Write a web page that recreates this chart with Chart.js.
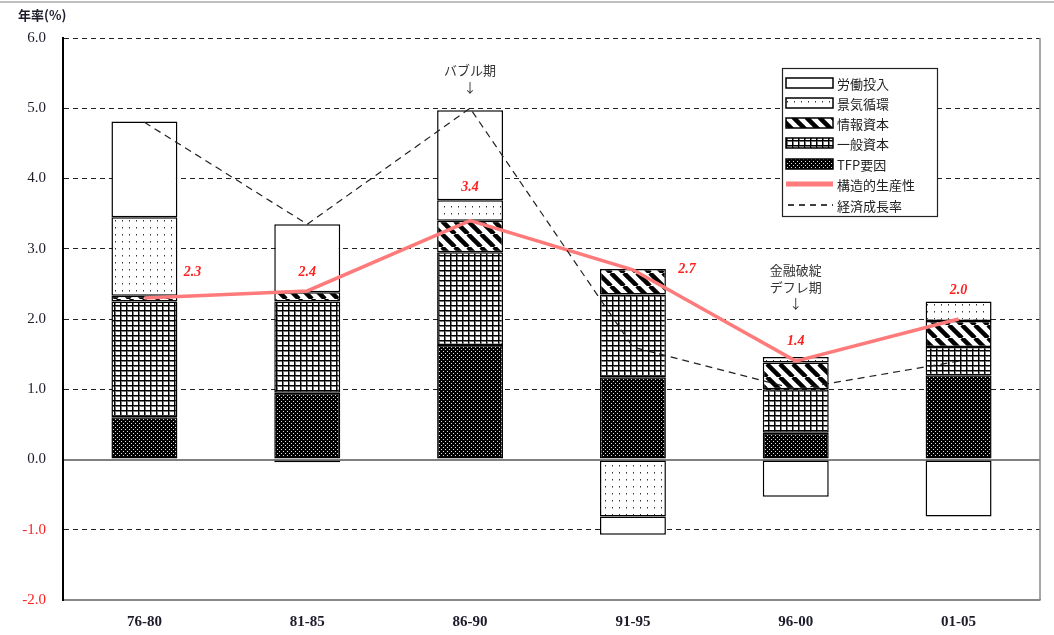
<!DOCTYPE html>
<html>
<head>
<meta charset="utf-8">
<script src="https://cdn.jsdelivr.net/npm/chart.js@4.4.1/dist/chart.umd.min.js"></script>
<style>
  body{margin:0;background:#fff}
  #wrap{width:1054px;height:635px;position:relative}
</style>
</head>
<body>
<div id="wrap"><canvas id="chart"></canvas></div>
<script>
// data
const periods = ["76-80","81-85","86-90","91-95","96-00","01-05"];
const tfp        = [0.60, 0.95, 1.63, 1.17, 0.38, 1.20];
const general    = [1.65, 1.30, 1.32, 1.18, 0.62, 0.40];
const info       = [0.08, 0.13, 0.45, 0.36, 0.38, 0.37];
const cycle      = [1.12, -0.04, 0.29, -0.81, 0.08, 0.28];
const labor      = [1.36, 0.97, 1.28, -0.26, -0.53, -0.81];
const structural = [2.3, 2.4, 3.4, 2.7, 1.4, 2.0];
const growth     = [4.8, 3.35, 5.0, 1.6, 1.0, 1.4];
const seriesNames = ["労働投入","景気循環","情報資本","一般資本","TFP要因","構造的生産性","経済成長率"];
const yMin = -2, yMax = 6, yStep = 1;
const yTitle = "年率(%)";
const notes = [
  {cat: 2, lines: ["バブル期","↓"], at: [5.55, 5.3]},
  {cat: 4, lines: ["金融破綻","デフレ期","↓"], at: [2.7, 2.46, 2.23]}
];

// where each red value label sits relative to its point (px)
const labelOffset = [[48,-26],[0,-19],[0,-33],[54,0],[0,-20],[0,-29]];

const RED = '#ff2020';
const PINK = '#ff7b7b';
const INK = '#1c1c2a';
const SERIF = '"Liberation Serif", "Times New Roman", serif';
const JP = '"Noto Sans CJK JP", "Noto Sans", sans-serif';

function tile(w, h, draw){
  const c = document.createElement('canvas');
  c.width = w; c.height = h;
  const g = c.getContext('2d');
  draw(g, w, h);
  return g.createPattern(c, 'repeat');
}

const patLabor = '#ffffff';
const patCycle = tile(7, 7, (g,w,h)=>{
  g.fillStyle='#fff'; g.fillRect(0,0,w,h);
  g.fillStyle='#333'; g.fillRect(3,3,1,1);
  g.fillStyle='#999'; g.fillRect(3,4,1,1);
});
const patInfo = tile(13, 13, (g,w,h)=>{
  g.fillStyle='#fff'; g.fillRect(0,0,w,h);
  g.strokeStyle='#000'; g.lineWidth=4.5;
  [-w,0,w].forEach(o=>{ g.beginPath(); g.moveTo(o,0); g.lineTo(o+w,h); g.stroke(); });
});
const patGeneral = tile(6, 5, (g,w,h)=>{
  g.fillStyle='#fff'; g.fillRect(0,0,w,h);
  g.fillStyle='#777'; g.fillRect(1,0,1,h); g.fillRect(0,1,w,1);
  g.fillStyle='#000'; g.fillRect(0,0,1,h); g.fillRect(0,0,w,1);
});
const patTfp = tile(4, 4, (g,w,h)=>{
  g.fillStyle='#000'; g.fillRect(0,0,w,h);
  g.fillStyle='#ddd'; g.fillRect(1,1,1,1); g.fillRect(3,3,1,1);
});

function bar(label, data, fill){
  return {type:'bar', label, data, backgroundColor: fill, borderColor:'#000', borderWidth:1.5,
    borderSkipped:false, stack:'bars', order:1, barPercentage:0.405, categoryPercentage:1};
}

const overlay = {
  id: 'overlay',
  afterDatasetsDraw(chart){
    const {ctx, chartArea:a, scales:{x, y}} = chart;
    ctx.save();
    // page line at top
    ctx.strokeStyle='#aaa'; ctx.lineWidth=1.5;
    ctx.beginPath(); ctx.moveTo(0,2); ctx.lineTo(chart.width,2); ctx.stroke();
    // right frame
    ctx.strokeStyle='#888'; ctx.lineWidth=1.5;
    ctx.beginPath(); ctx.moveTo(a.right, a.top); ctx.lineTo(a.right, a.bottom); ctx.stroke();

    // axis title
    ctx.fillStyle=INK; ctx.font='bold 13px '+JP; ctx.textAlign='left'; ctx.textBaseline='middle';
    ctx.fillText(yTitle, 18, 15);

    // value labels of the structural line
    ctx.fillStyle=RED; ctx.font='italic bold 14px '+SERIF; ctx.textAlign='center';
    structural.forEach((v,i)=>{
      const o = labelOffset[i];
      ctx.fillText(v.toFixed(1), x.getPixelForValue(i)+o[0], y.getPixelForValue(v)+o[1]);
    });

    // period notes
    ctx.fillStyle='#333'; ctx.font='13px '+JP;
    notes.forEach(n=>{
      n.lines.forEach((t,j)=> ctx.fillText(t, x.getPixelForValue(n.cat), y.getPixelForValue(n.at[j])));
    });

    // legend
    const lx=782.5, ly=68.5, lw=155, lh=148;
    ctx.fillStyle='#fff'; ctx.fillRect(lx,ly,lw,lh);
    ctx.strokeStyle='#222'; ctx.lineWidth=1.2; ctx.strokeRect(lx,ly,lw,lh);
    const rows=[83,103,123,143,164,184,205];
    const fills=[patLabor, patCycle, patInfo, patGeneral, patTfp];
    ctx.textAlign='left'; ctx.font='13px '+JP;
    seriesNames.forEach((name,i)=>{
      const ry=rows[i];
      if(i<5){
        ctx.fillStyle=fills[i]; ctx.fillRect(786, ry-5, 47, 10);
        ctx.strokeStyle='#000'; ctx.lineWidth=1.5; ctx.strokeRect(786, ry-5, 47, 10);
      } else if(i===5){
        ctx.strokeStyle=PINK; ctx.lineWidth=5; ctx.setLineDash([]);
        ctx.beginPath(); ctx.moveTo(786,ry); ctx.lineTo(833,ry); ctx.stroke();
      } else {
        ctx.strokeStyle='#000'; ctx.lineWidth=1.5; ctx.setLineDash([6,5]);
        ctx.beginPath(); ctx.moveTo(788,ry); ctx.lineTo(833,ry); ctx.stroke();
        ctx.setLineDash([]);
      }
      ctx.fillStyle='#222';
      ctx.fillText(name, 837, ry+1);
    });
    ctx.restore();
  }
};

new Chart(document.getElementById('chart'), {
  data: {
    labels: periods,
    datasets: [
      bar(seriesNames[4], tfp, patTfp),
      bar(seriesNames[3], general, patGeneral),
      bar(seriesNames[2], info, patInfo),
      bar(seriesNames[1], cycle, patCycle),
      bar(seriesNames[0], labor, patLabor),
      {type:'line', label:seriesNames[6], data:growth, borderColor:'#222', borderWidth:1.2,
        borderDash:[7,5], pointRadius:0, tension:0, stack:'g', order:0},
      {type:'line', label:seriesNames[5], data:structural, borderColor:PINK, borderWidth:3.5,
        pointRadius:0, tension:0, stack:'s', order:0}
    ]
  },
  options: {
    responsive:true, maintainAspectRatio:false, animation:false,
    layout:{padding:{top:38, right:14, left:0, bottom:0}},
    plugins:{legend:{display:false}, tooltip:{enabled:false}},
    scales:{
      x:{
        stacked:true,
        grid:{display:false, drawTicks:false},
        border:{color:'#888', width:1.5},
        ticks:{color:INK, font:{family:SERIF, size:15, weight:'bold'}, padding:13},
        afterFit:s=>{ s.height = 35; }
      },
      y:{
        stacked:true, min:yMin, max:yMax,
        ticks:{stepSize:yStep, padding:17, callback:v=>v.toFixed(1),
          color:c=> c.tick.value<0 ? RED : INK, font:{family:SERIF, size:15}},
        grid:{drawTicks:false,
          color:c=> c.tick.value===0 ? '#808080' : (c.tick.value===yMin ? '#888' : '#222'),
          lineWidth:c=> c.tick.value===0 ? 2 : 1},
        border:{color:'#000', width:2,
          dash:c=> (!c.tick || c.tick.value===0 || c.tick.value===yMin) ? [] : [5,4]},
        afterFit:s=>{ s.width = 63; }
      }
    }
  },
  plugins:[overlay]
});
</script>
</body>
</html>
